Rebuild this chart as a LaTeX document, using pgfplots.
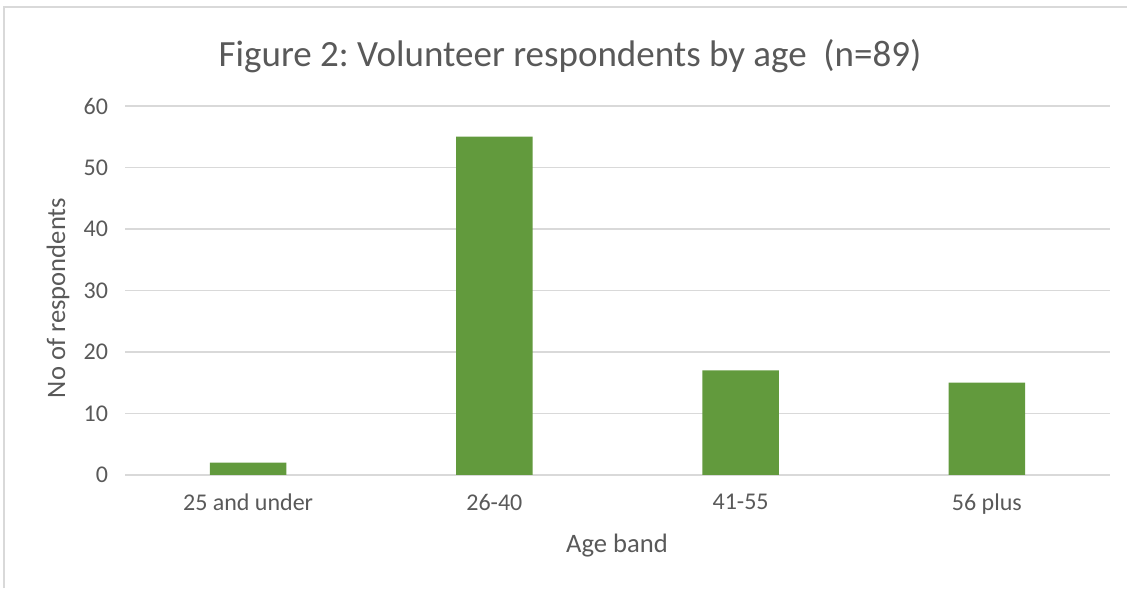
\documentclass[border=0pt]{standalone}
\usepackage{pgfplots}
\pgfplotsset{compat=1.18}
\usepackage{fontspec}
\setmainfont{Carlito}
\frenchspacing
\definecolor{txt}{HTML}{595959}
\definecolor{grd}{HTML}{D9D9D9}
\definecolor{bar}{HTML}{629A3D}
\begin{document}
\begin{tikzpicture}[x=0.5pt,y=0.5pt]
\path[use as bounding box] (0,0) rectangle (1127,588);
\draw[grd,line width=1pt] (4,0) -- (4,581) -- (1127,581);
\begin{axis}[
  at={(125*0.5pt,113*0.5pt)}, anchor=south west,
  scale only axis, width=492.5pt, height=184.5pt,
  ymin=0, ymax=60, ytick={0,10,...,60},
  xmin=-0.5, xmax=3.5, xtick=data,
  xticklabels={25 and under,26-40,41-55,56 plus},
  ybar, bar width=0.31, bar shift=0pt,
  axis line style={draw=none},
  axis x line*=bottom,
  ymajorgrids, grid style={grd, line width=0.6pt},
  major tick length=0pt,
  tick label style={font=\fontsize{12}{14}\selectfont, text=txt},
  yticklabel style={xshift=-5pt},
  xticklabel style={yshift=-6pt},
  /pgf/number format/assume math mode=true,
  clip=false,
]
\addplot[fill=bar, draw=none] coordinates {(0,2) (1,55) (2,17) (3,15)};
\end{axis}
\node[text=txt, font=\fontsize{18.5}{21}\selectfont] at (570,532) {Figure 2: Volunteer respondents by age\ \ (n=89)};
\node[text=txt, font=\fontsize{13.3}{15}\selectfont, rotate=90] at (58,290) {No of respondents};
\node[text=txt, font=\fontsize{13.3}{15}\selectfont] at (617,42) {Age band};
\end{tikzpicture}
\end{document}
